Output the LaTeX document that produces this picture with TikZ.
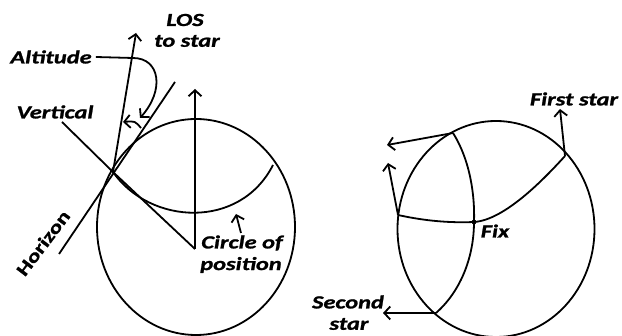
\documentclass[tikz,border=0pt]{standalone}
\usepackage{fontspec}
\newfontfamily\labfont[FakeStretch=1.32,
  BoldItalicFeatures={FakeStretch=1.32,FakeBold=1.2},
  BoldFeatures={FakeBold=1.2}]{Carlito}
\usetikzlibrary{arrows.meta}
\begin{document}
\begin{tikzpicture}[x=1pt,y=-1pt,line width=1.8pt,
  every node/.style={font=\labfont\bfseries\itshape\fontsize{18.5}{20}\selectfont},
  tip/.style={-{Straight Barb[length=6pt,width=13pt]}},
  dot/.style={circle,fill,inner sep=1.7pt}]
\useasboundingbox (0,0) rectangle (622,336);
% observer on the earth
\draw (196,227) ellipse [x radius=99, y radius=108];
\coordinate (obs) at (113,172);
\coordinate (ctr) at (195,249);
\coordinate (zen) at (195,89);
\coordinate (vtop) at (62,122);
\coordinate (hlow) at (59,254);
\coordinate (htop) at (175,82);
\coordinate (star) at (136,33);
\coordinate (cpos) at (273,165);
\coordinate (alth) at (141,128);
\coordinate (altl) at (123,122);
\draw (vtop) -- (obs) -- (ctr);
\draw[tip] (ctr) -- (zen);
\draw (hlow) -- (htop);
\draw[tip] (obs) -- (star);
\draw (obs) .. controls (150,225) and (240,230) .. (cpos);
\draw[tip] (alth) .. controls (135,121) .. (altl);
\node (los) at (185,20) {LOS};
\node (tostar) at (187,41) {to star};
\node (alt) at (51,57) {Altitude};
\node (vert) at (55,112) {Vertical};
\node[rotate=53,font=\labfont\bfseries\fontsize{18}{19}\selectfont] (hor) at (43,243) {Horizon};
\node (circ) at (242,243) {Circle of};
\node (posn) at (241,265) {position};
\draw[tip] (alt.east) -- (133,58) .. controls (160,58) and (165,90) .. (140,118);
\draw[tip] (241,233) -- (236,214);
% two stars give the fix
\draw (496,229) ellipse [x radius=98.5, y radius=108];
\coordinate (a) at (398,215);
\coordinate (b) at (453,133);
\coordinate (c) at (565,156);
\coordinate (d) at (436,313);
\node[dot] (fix) at (474,222) {};
\draw (a) .. controls (425,221) and (450,223) .. (fix.center)
  .. controls (505,220) and (545,178) .. (c);
\draw (b) .. controls (470,160) and (475,195) .. (fix.center)
  .. controls (474,255) and (462,290) .. (d);
\coordinate (bend) at (387,145);
\coordinate (aend) at (388,163);
\coordinate (cend) at (560,109);
\coordinate (dend) at (383,313);
\draw[tip] (b) -- (bend);
\draw[tip] (a) -- (aend);
\draw[tip] (c) -- (cend);
\draw[tip] (d) -- (dend);
\node (first) at (574,99) {First star};
\node (fixl) at (495,231) {Fix};
\node (second) at (348,302) {Second};
\node (secstar) at (349,324) {star};
\end{tikzpicture}
\end{document}
